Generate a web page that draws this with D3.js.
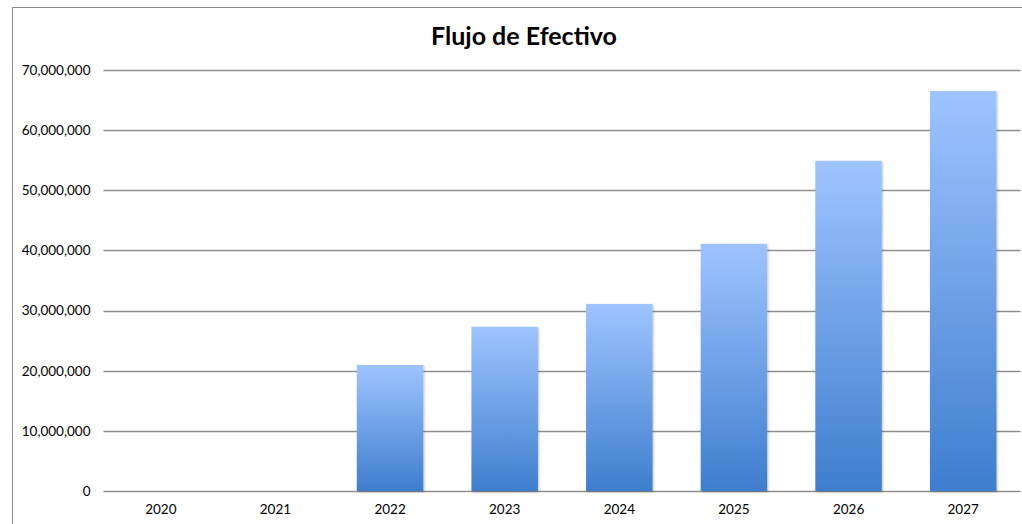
<!DOCTYPE html>
<html>
<head>
<meta charset="utf-8">
<script src="https://cdn.jsdelivr.net/npm/d3@7"></script>
<style>
  body { margin: 0; background: #fff; }
  svg { display: block; font-family: Lato, "Open Sans", sans-serif; }
</style>
</head>
<body>
<div id="chart"></div>
<script>
// chart data
const years = ["2020", "2021", "2022", "2023", "2024", "2025", "2026", "2027"];
const flujo = [0, 0, 20950000, 27300000, 31100000, 41100000, 54900000, 66500000];
const yTicks = [0, 10000000, 20000000, 30000000, 40000000, 50000000, 60000000, 70000000];

const W = 1022, H = 524;
const margin = {top: 70, right: 1.5, bottom: 33, left: 103.5};

const svg = d3.select("#chart").append("svg")
  .attr("width", W)
  .attr("height", H);

// gradient for the bars
const grad = svg.append("defs").append("linearGradient")
  .attr("id", "barGrad")
  .attr("x1", 0).attr("y1", 0).attr("x2", 0).attr("y2", 1);
grad.append("stop").attr("offset", "0%").attr("stop-color", "#9EC4FF");
grad.append("stop").attr("offset", "100%").attr("stop-color", "#3E7ECD");

const shadow = svg.select("defs").append("filter")
  .attr("id", "shadow").attr("x", "-10%").attr("y", "-10%").attr("width", "130%").attr("height", "120%");
shadow.append("feDropShadow")
  .attr("dx", 1).attr("dy", 1).attr("stdDeviation", 1.2)
  .attr("flood-color", "#000").attr("flood-opacity", 0.25);

// frame of the chart area
svg.append("rect")
  .attr("x", 12.5).attr("y", 7.5)
  .attr("width", 1100).attr("height", 600)
  .attr("fill", "none")
  .attr("stroke", "#8c8c8c");

const x = d3.scaleBand()
  .domain(years)
  .range([margin.left, W - margin.right])
  .paddingInner(0.42)
  .paddingOuter(0.21);

const y = d3.scaleLinear()
  .domain([0, 70000000])
  .range([H - margin.bottom, margin.top]);

// gridlines
svg.append("g")
  .selectAll("line")
  .data(yTicks)
  .enter().append("line")
  .attr("x1", margin.left)
  .attr("x2", W - margin.right)
  .attr("y1", d => Math.round(y(d)) + 0.5)
  .attr("y2", d => Math.round(y(d)) + 0.5)
  .attr("stroke", "#8f8f8f")
  .attr("stroke-width", 1.3);

// y axis labels
const yAxis = svg.append("g")
  .attr("transform", "translate(" + margin.left + ",0)")
  .call(d3.axisLeft(y).tickValues(yTicks).tickSize(0).tickPadding(13)
    .tickFormat(d3.format(",")));
yAxis.select(".domain").remove();
yAxis.selectAll("text")
  .style("font-size", "13.5px")
  .style("font-family", "Lato, sans-serif")
  .attr("fill", "#000");

// bars
svg.append("g")
  .selectAll("rect")
  .data(flujo)
  .enter().append("rect")
  .attr("x", (d, i) => x(years[i]))
  .attr("y", d => y(d))
  .attr("width", x.bandwidth())
  .attr("height", d => y(0) - y(d))
  .attr("fill", "url(#barGrad)")
  .attr("filter", "url(#shadow)");

// x axis labels
const xAxis = svg.append("g")
  .attr("transform", "translate(0," + y(0) + ")")
  .call(d3.axisBottom(x).tickSize(0).tickPadding(13));
xAxis.select(".domain").remove();
xAxis.selectAll("text")
  .style("font-size", "13.5px")
  .style("font-family", "Lato, sans-serif")
  .attr("fill", "#000");

// title
svg.append("text")
  .attr("x", 524)
  .attr("y", 45)
  .attr("text-anchor", "middle")
  .style("font-weight", "bold")
  .style("font-size", "25px")
  .style("font-family", "Lato, sans-serif")
  .text("Flujo de Efectivo");
</script>
</body>
</html>
